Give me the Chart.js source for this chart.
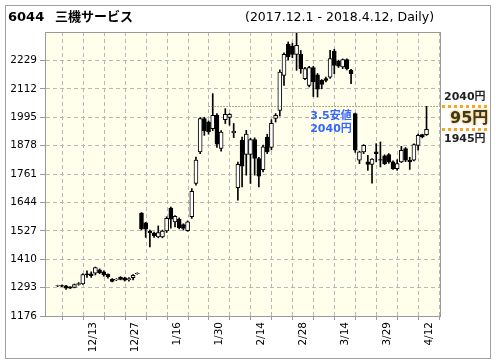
<!DOCTYPE html>
<html>
<head>
<meta charset="utf-8">
<script src="https://cdn.jsdelivr.net/npm/chart.js@4.4.0/dist/chart.umd.min.js"></script>
<style>
  html, body { margin: 0; padding: 0; background: #fff; }
</style>
</head>
<body>
<canvas id="candleChart" width="496" height="364"></canvas>
<script>
// trading days 2017.12.1 - 2018.4.12
const dates = [
  '12/1','12/4','12/5','12/6','12/7','12/8','12/11','12/12','12/13','12/14','12/15','12/18','12/19','12/20','12/21','12/22','12/25','12/26','12/27','12/28','12/29',
  '1/4','1/5','1/9','1/10','1/11','1/12','1/15','1/16','1/17','1/18','1/19','1/22','1/23','1/24','1/25','1/26','1/29','1/30','1/31',
  '2/1','2/2','2/5','2/6','2/7','2/8','2/9','2/13','2/14','2/15','2/16','2/19','2/20','2/21','2/22','2/23','2/26','2/27','2/28',
  '3/1','3/2','3/5','3/6','3/7','3/8','3/9','3/12','3/13','3/14','3/15','3/16','3/19','3/20','3/22','3/23','3/26','3/27','3/28','3/29','3/30',
  '4/2','4/3','4/4','4/5','4/6','4/9','4/10','4/11','4/12'
];
const opens = [
  1300,1301,1300,1296,1294,1306,1308,1350,1350,1352,1366,1358,1348,1327,1325,1336,1333,1326,1334,1350,1600,
  1560,1526,1518,1502,1502,1526,1621,1564,1575,1553,1528,1585,1722,1852,1989,1975,1948,2003,1866,
  1985,1994,1930,1705,1900,1842,1842,1903,1825,1779,1913,1871,1990,2023,2167,2295,2288,2254,2254,
  2154,2126,2199,2170,2147,2154,2160,2267,2226,2202,2232,2188,2010,1818,1852,1811,1800,1852,1820,1836,1841,
  1811,1783,1811,1866,1818,1818,1879,1923,1923
];
const highs = [
  1303,1303,1302,1297,1308,1314,1350,1362,1358,1378,1370,1362,1350,1330,1330,1338,1336,1334,1347,1354,1602,
  1562,1530,1522,1547,1530,1585,1625,1590,1580,1556,1568,1701,1831,1993,1995,1980,2092,2010,1940,
  2030,2010,1969,1810,1913,1941,1908,1910,1830,1880,1925,1985,2010,2190,2260,2305,2300,2345,2270,
  2200,2205,2205,2175,2150,2160,2270,2275,2230,2235,2235,2192,2012,1855,1882,1838,1825,1886,1893,1840,1845,
  1815,1820,1875,1870,1830,1885,1925,1925,2040
];
const lows = [
  1297,1297,1286,1289,1292,1303,1306,1335,1335,1345,1350,1340,1332,1316,1322,1325,1320,1320,1325,1348,1530,
  1500,1461,1500,1498,1498,1520,1538,1543,1535,1530,1525,1578,1715,1845,1920,1925,1940,1870,1855,
  1969,1962,1911,1653,1708,1756,1722,1756,1708,1770,1845,1860,1975,2000,2126,2230,2240,2188,2176,
  2150,2120,2080,2078,2112,2140,2155,2174,2200,2195,2190,2133,1850,1804,1845,1776,1723,1811,1790,1800,1805,
  1780,1776,1808,1812,1780,1815,1859,1910,1920
];
const closes = [
  1301,1299,1291,1291,1305,1310,1347,1346,1342,1375,1354,1345,1338,1318,1327,1327,1324,1330,1344,1352,1535,
  1534,1518,1507,1520,1526,1578,1575,1587,1540,1537,1564,1690,1818,1989,1938,1934,2003,1884,1934,
  2007,2007,1938,1801,1793,1925,1903,1825,1752,1873,1852,1970,2003,2181,2254,2243,2254,2291,2195,
  2195,2199,2140,2110,2130,2147,2236,2208,2205,2232,2195,2174,1859,1852,1879,1800,1822,1845,1818,1804,1811,
  1783,1804,1859,1818,1811,1882,1920,1914,1945
];
const yTicks = [1176, 1293, 1410, 1527, 1644, 1761, 1878, 1995, 2112, 2229];
const gridDays = [3, 8, 13, 18, 23, 28, 33, 38, 43, 48, 53, 58, 63, 68, 73, 78, 83, 88];
const labelDays = [8, 18, 28, 38, 48, 58, 68, 78, 88];

const gapTop = 2040;
const gapBottom = 1945;
const gapFromDay = 36;

const ctx = document.getElementById('candleChart').getContext('2d');

const frame = {
  id: 'frame',
  beforeDraw(chart) {
    const c = chart.ctx, a = chart.chartArea;
    c.save();
    c.fillStyle = '#fff';
    c.fillRect(0, 0, chart.width, chart.height);
    c.fillStyle = '#ffffec';
    c.fillRect(a.left, a.top, a.right - a.left, a.bottom - a.top);
    c.restore();
  },
  afterDatasetsDraw(chart) {
    const c = chart.ctx, a = chart.chartArea;
    const x = chart.scales.x, y = chart.scales.y;
    const yTop = Math.round(y.getPixelForValue(gapTop)) + 0.5;
    const yBot = Math.round(y.getPixelForValue(gapBottom)) + 0.5;
    c.save();
    // dotted line at 3/5 low
    c.strokeStyle = '#6a5a20';
    c.lineWidth = 1;
    c.setLineDash([1, 2]);
    c.beginPath();
    c.moveTo(x.getPixelForValue(gapFromDay), yTop);
    c.lineTo(a.right, yTop);
    c.stroke();
    c.setLineDash([]);
    // plot box
    c.strokeStyle = '#999';
    c.strokeRect(a.left + 0.5, a.top + 0.5, a.right - a.left, a.bottom - a.top);
    // outer frame
    c.strokeStyle = '#a0a0a0';
    c.strokeRect(5.5, 5.5, 485, 353);

    // title
    c.fillStyle = '#000';
    c.textBaseline = 'alphabetic';
    c.textAlign = 'left';
    c.font = 'bold 13px "DejaVu Sans", "Noto Sans CJK JP"';
    c.fillText('6044', 8, 21);
    c.font = 'bold 13px "Noto Sans CJK JP"';
    c.fillText('三機サービス', 55, 21);
    c.font = '12.5px "DejaVu Sans", "Noto Sans CJK JP"';
    c.fillText('(2017.12.1 - 2018.4.12, Daily)', 245, 21);

    // blue note
    c.fillStyle = '#3366ff';
    c.textAlign = 'center';
    c.textBaseline = 'middle';
    c.font = 'bold 11px "DejaVu Sans", "Noto Sans CJK JP"';
    c.fillText('3.5安値', 331, 116);
    c.fillText('2040円', 331, 129);

    // gap box on the right
    c.strokeStyle = '#f5a623';
    c.lineWidth = 3;
    c.setLineDash([3, 3]);
    c.beginPath();
    c.moveTo(a.right + 2, yTop);
    c.lineTo(489, yTop);
    c.moveTo(a.right + 2, yBot);
    c.lineTo(489, yBot);
    c.stroke();
    c.setLineDash([]);

    c.textAlign = 'left';
    c.fillStyle = '#222';
    c.font = 'bold 11px "DejaVu Sans", "Noto Sans CJK JP"';
    c.fillText(gapTop + '円', 444, yTop - 9);
    c.fillText(gapBottom + '円', 444, yBot + 10);
    c.font = 'bold 16px "DejaVu Sans", "Noto Sans CJK JP"';
    c.shadowColor = '#f5a623';
    c.shadowBlur = 3;
    c.fillStyle = '#3a3a20';
    c.fillText((gapTop - gapBottom) + '円', 450, (yTop + yBot) / 2 + 1);
    c.restore();
  }
};

new Chart(ctx, {
  type: 'bar',
  data: {
    datasets: [
      {
        label: 'body',
        data: dates.map((d, i) => ({ x: i, y: [Math.min(opens[i], closes[i]), Math.max(opens[i], closes[i]) + (opens[i] === closes[i] ? 2 : 0)] })),
        backgroundColor: c => (closes[c.dataIndex] >= opens[c.dataIndex] ? '#ffffff' : '#000000'),
        borderColor: '#000',
        borderWidth: 1,
        borderSkipped: false,
        barThickness: 4,
        grouped: false,
        order: 1
      },
      {
        label: 'wick',
        data: dates.map((d, i) => ({ x: i, y: [lows[i], highs[i]] })),
        backgroundColor: '#000',
        barThickness: 1,
        grouped: false,
        order: 2
      }
    ]
  },
  options: {
    responsive: false,
    animation: false,
    layout: { padding: { top: 32, right: 56, bottom: 0, left: 0 } },
    plugins: { legend: { display: false }, tooltip: { enabled: false } },
    scales: {
      x: {
        type: 'linear',
        min: -0.4,
        max: 88.6,
        afterBuildTicks: s => { s.ticks = gridDays.map(d => ({ value: d + 0.6 })); },
        afterFit: s => { s.height = 48; },
        ticks: {
          autoSkip: false,
          minRotation: 90,
          maxRotation: 90,
          padding: 2,
          color: '#000',
          font: { family: 'DejaVu Sans', size: 10.5 },
          callback: v => {
            const d = Math.round(v - 0.6);
            return labelDays.includes(d) ? dates[d] : '';
          }
        },
        grid: { color: '#b8b8b8', tickLength: 4, tickColor: '#999' },
        border: { color: '#999', dash: [4, 3] }
      },
      y: {
        min: 1176,
        max: 2346,
        afterBuildTicks: s => { s.ticks = yTicks.map(v => ({ value: v })); },
        afterFit: s => { s.width = 45; },
        ticks: {
          padding: 3,
          color: '#000',
          font: { family: 'DejaVu Sans', size: 10.5 },
          callback: v => String(v)
        },
        grid: { color: '#b8b8b8', tickLength: 5, tickColor: '#999' },
        border: { color: '#999', dash: [4, 3] }
      }
    }
  },
  plugins: [frame]
});
</script>
</body>
</html>
